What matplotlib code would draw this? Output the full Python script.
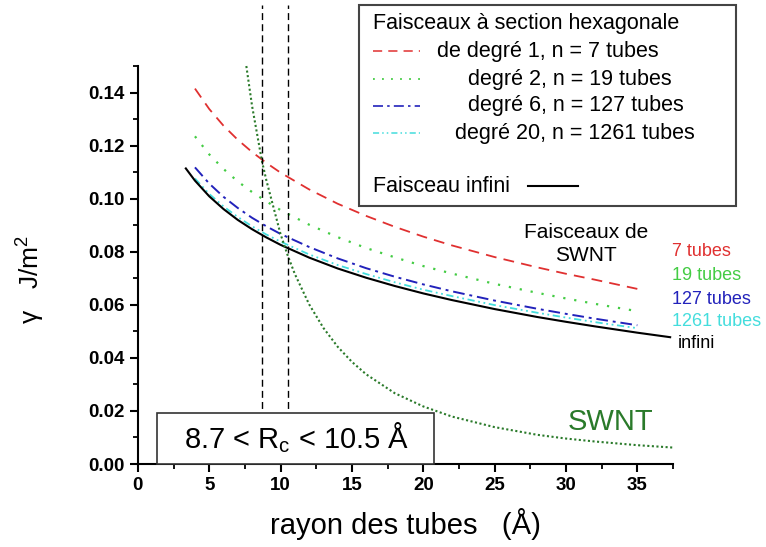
import numpy as np
import matplotlib
matplotlib.use("Agg")
import matplotlib.pyplot as plt
from matplotlib.lines import Line2D
from matplotlib.patches import Rectangle

plt.rcParams['font.family'] = ['Liberation Sans', 'DejaVu Sans']
plt.rcParams['mathtext.fontset'] = 'custom'
plt.rcParams['mathtext.rm'] = 'Liberation Sans'
plt.rcParams['mathtext.it'] = 'Liberation Sans:italic'
plt.rcParams['mathtext.bf'] = 'Liberation Sans:bold'

# rayon des tubes (Angstrom) for the bundle curves
r_bundle = [4, 5, 6, 7, 8, 9, 10, 12, 14, 16, 18, 20, 22, 25, 28, 30, 32, 35]
g_7 = [0.1415, 0.1338, 0.1275, 0.1222, 0.1176, 0.1135, 0.1098, 0.1035, 0.0981,
       0.0935, 0.0894, 0.0857, 0.0824, 0.0780, 0.0741, 0.0717, 0.0695, 0.0660]
g_19 = [0.1235, 0.1167, 0.1112, 0.1065, 0.1025, 0.0990, 0.0957, 0.0902, 0.0855,
        0.0814, 0.0779, 0.0746, 0.0718, 0.0679, 0.0645, 0.0624, 0.0604, 0.0576]
g_127 = [0.1118, 0.1057, 0.1007, 0.0965, 0.0928, 0.0896, 0.0867, 0.0818, 0.0775,
         0.0738, 0.0706, 0.0677, 0.0651, 0.0616, 0.0585, 0.0566, 0.0548, 0.0523]
g_1261 = [0.1076, 0.1018, 0.0971, 0.0931, 0.0896, 0.0865, 0.0838, 0.0790, 0.0750,
          0.0716, 0.0685, 0.0657, 0.0633, 0.0599, 0.0570, 0.0552, 0.0535, 0.0512]

# faisceau infini
r_inf = [3.36, 4, 5, 6, 7, 8, 9, 10, 12, 14, 16, 18, 20, 22, 25, 28, 30, 32, 35, 37.3]
g_inf = [0.1114, 0.1068, 0.1009, 0.0961, 0.0920, 0.0885, 0.0854, 0.0826, 0.0778,
         0.0737, 0.0702, 0.0671, 0.0643, 0.0618, 0.0584, 0.0554, 0.0536, 0.0519,
         0.0495, 0.0478]

# tube isole (SWNT)
r_swnt = [7.6, 8, 8.7, 9, 10, 10.5, 11, 12, 13, 14, 15, 16, 18, 20, 22, 25, 28,
          30, 32, 35, 37.5]
g_swnt = [0.150, 0.135, 0.114, 0.107, 0.0866, 0.0786, 0.0716, 0.0602, 0.0513,
          0.0442, 0.0385, 0.0338, 0.0267, 0.0217, 0.0179, 0.0139, 0.0110, 0.0096,
          0.0085, 0.0071, 0.0062]

rc_bounds = [8.7, 10.5]

c_red = '#e03030'
c_green = '#44cc44'
c_blue = '#2222bb'
c_cyan = '#44dddd'
c_swnt = '#2a7a2a'

ls_7 = (0, (6, 4))
ls_19 = (0, (1, 4))
ls_127 = (0, (6, 2.5, 1.5, 2.5))
ls_1261 = (0, (4, 2, 1, 2, 1, 2))

fig = plt.figure(figsize=(7.66, 5.47), dpi=100)
ax = fig.add_axes([0.180, 0.1517, 0.6986, 0.7276])

ax.plot(r_bundle, g_7, color=c_red, lw=1.3, linestyle=ls_7)
ax.plot(r_bundle, g_19, color=c_green, lw=1.6, linestyle=ls_19)
ax.plot(r_bundle, g_127, color=c_blue, lw=1.4, linestyle=ls_127)
ax.plot(r_bundle, g_1261, color=c_cyan, lw=1.3, linestyle=ls_1261)
ax.plot(r_inf, g_inf, color='black', lw=1.5)
ax.plot(r_swnt, g_swnt, color=c_swnt, lw=1.5, linestyle=(0, (1, 1.2)), clip_on=False)

ax.vlines(rc_bounds, 0, 0.173, colors='black', linestyles=(0, (5, 3)), lw=1.0,
          clip_on=False)

ax.set_xlim(0, 37.5)
ax.set_ylim(0, 0.15)
ax.set_xticks(np.arange(0, 36, 5))
ax.set_xticks(np.arange(0, 37.6, 2.5), minor=True)
ax.set_yticks(np.arange(0, 0.141, 0.02))
ax.set_yticks(np.arange(0, 0.151, 0.01), minor=True)
ax.set_yticklabels(['%.2f' % v for v in np.arange(0, 0.141, 0.02)])
for s in ['top', 'right']:
    ax.spines[s].set_visible(False)
for s in ['left', 'bottom']:
    ax.spines[s].set_linewidth(1.5)
ax.tick_params(which='major', direction='out', length=6, width=1.5, labelsize=13.5)
ax.tick_params(which='minor', direction='out', length=3.5, width=1.3)
for lab in ax.get_xticklabels() + ax.get_yticklabels():
    lab.set_fontweight('bold')

ax.set_xlabel(u'rayon des tubes   (\u00c5)', fontsize=21, labelpad=10)
fig.text(0.040, 0.49, u'\u03b3   J/m$^2$', rotation=90, fontsize=19,
         ha='center', va='center')

# boite R_c
ax.add_patch(Rectangle((1.33, 0), 19.4, 0.0192, facecolor='white',
                       edgecolor='#333333', lw=1.2, zorder=5, clip_on=False))
ax.text(11.1, 0.0098, u'8.7 < R$_{\\mathregular{c}}$ < 10.5 \u00c5', fontsize=21,
        ha='center', va='center', zorder=6)

ax.text(33.1, 0.0158, 'SWNT', color=c_swnt, fontsize=21, ha='center', va='center')
ax.text(31.4, 0.083, 'Faisceaux de\nSWNT', fontsize=15, ha='center', va='center',
        linespacing=1.3)

# etiquettes a droite
right_labels = ['7 tubes', '19 tubes', '127 tubes', '1261 tubes']
right_colors = [c_red, c_green, c_blue, c_cyan]
right_y = [252, 276, 299, 322]

ov = fig.add_axes([0, 0, 1, 1], zorder=10)
ov.set_xlim(0, 766)
ov.set_ylim(547, 0)
ov.axis('off')
ov.patch.set_alpha(0)

for lab, col, y in zip(right_labels, right_colors, right_y):
    ov.text(672, y, lab, color=col, fontsize=13, va='center', ha='left')
ov.text(678, 343, 'infini', color='black', fontsize=13, va='center', ha='left')

# legende
ov.add_patch(Rectangle((359, 5), 377, 201, facecolor='white', edgecolor='#444444',
                       lw=1.5))
ov.text(373, 24, u'Faisceaux \u00e0 section hexagonale', fontsize=15.5, va='center')
leg_text = [u'de degr\u00e9 1, n = 7 tubes', u'degr\u00e9 2, n = 19 tubes',
            u'degr\u00e9 6, n = 127 tubes', u'degr\u00e9 20, n = 1261 tubes']
leg_x = [437, 468, 468, 455]
leg_y = [51, 79, 106, 133]
leg_styles = [(c_red, ls_7, 1.1), (c_green, ls_19, 1.3), (c_blue, ls_127, 1.2),
              (c_cyan, ls_1261, 1.1)]
for txt, x, y, (col, ls, lw) in zip(leg_text, leg_x, leg_y, leg_styles):
    ov.add_line(Line2D([373, 420], [y, y], color=col, linestyle=ls, lw=lw))
    ov.text(x, y, txt, fontsize=15.5, va='center')
ov.text(373, 186, 'Faisceau infini', fontsize=15.5, va='center')
ov.add_line(Line2D([528, 578], [186, 186], color='black', lw=1.5))

fig.savefig('out.png', dpi=100)
